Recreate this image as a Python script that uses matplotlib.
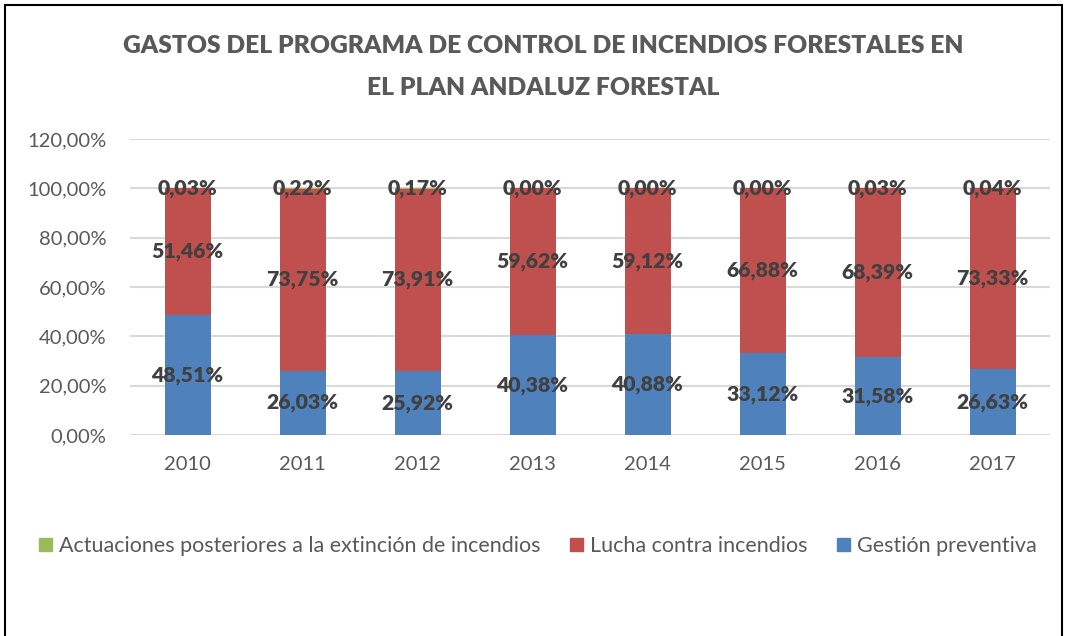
import matplotlib
matplotlib.use("Agg")
import matplotlib.pyplot as plt
from matplotlib.patches import Rectangle, Patch
import numpy as np

plt.rcParams['font.family'] = ['Lato', 'DejaVu Sans']

years = ["2010", "2011", "2012", "2013", "2014", "2015", "2016", "2017"]
gestion = [48.51, 26.03, 25.92, 40.38, 40.88, 33.12, 31.58, 26.63]
lucha = [51.46, 73.75, 73.91, 59.62, 59.12, 66.88, 68.39, 73.33]
actuaciones = [0.03, 0.22, 0.17, 0.00, 0.00, 0.00, 0.03, 0.04]
yticks = [0, 20, 40, 60, 80, 100, 120]

c_blue = "#4F81BD"
c_red = "#C0504D"
c_green = "#9BBB59"
c_lab = "#404040"
c_txt = "#595959"

W, H = 1069, 636
fig = plt.figure(figsize=(W / 100, H / 100), dpi=100)
ax = fig.add_axes([130 / W, 201 / H, 920 / W, (497 - 201) / H])

x = np.arange(len(years))
bw = 0.4
g = np.array(gestion)
l = np.array(lucha)
a = np.array(actuaciones)
ax.bar(x, g, bw, color=c_blue, zorder=3)
ax.bar(x, l, bw, bottom=g, color=c_red, zorder=3)
ax.bar(x, a, bw, bottom=g + l, color=c_green, zorder=3)

def fmt(v):
    return f"{v:.2f}".replace(".", ",") + "%"

lab_kw = dict(ha="center", va="center", fontsize=15.3, fontweight="heavy",
              color=c_lab, zorder=5)
for i in range(len(years)):
    ax.text(x[i], g[i] / 2, fmt(g[i]), **lab_kw)
    ax.text(x[i], g[i] + l[i] / 2, fmt(l[i]), **lab_kw)
    ax.text(x[i], g[i] + l[i] + a[i] / 2, fmt(a[i]), **lab_kw)

ax.set_xlim(-0.5, len(years) - 0.5)
ax.set_ylim(0, 120)
ax.set_yticks(yticks)
ax.set_yticklabels([f"{v:.2f}".replace(".", ",") + "%" for v in yticks])
ax.set_xticks(x)
ax.set_xticklabels(years)
ax.tick_params(axis="both", length=0, labelsize=14.5, colors=c_txt)
ax.tick_params(axis="y", pad=17)
ax.tick_params(axis="x", pad=15)
ax.yaxis.grid(True, color="#D9D9D9", linewidth=1.5, zorder=0)
ax.set_axisbelow(True)
for s in ax.spines.values():
    s.set_visible(False)

title_kw = dict(ha="center", va="center", fontsize=17.7, fontweight="heavy", color=c_txt)
fig.text(543 / W, 1 - 46 / H, "GASTOS DEL PROGRAMA DE CONTROL DE INCENDIOS FORESTALES EN", **title_kw)
fig.text(543 / W, 1 - 88 / H, "EL PLAN ANDALUZ FORESTAL", **title_kw)

handles = [Patch(color=c_green), Patch(color=c_red), Patch(color=c_blue)]
labels = ["Actuaciones posteriores a la extinción de incendios",
          "Lucha contra incendios", "Gestión preventiva"]
fig.legend(handles, labels, loc="center", bbox_to_anchor=(538 / W, 1 - 546 / H),
           ncol=3, frameon=False, fontsize=15.5, labelcolor=c_txt,
           handlelength=0.6, handleheight=0.6, handletextpad=0.3, columnspacing=1.4)

fig.patches.append(Rectangle((5 / W, -0.1), (1062 - 5) / W, 1.1 - 5 / H,
                             transform=fig.transFigure, fill=False,
                             edgecolor="black", linewidth=1.5))

fig.savefig("out.png", dpi=100)
